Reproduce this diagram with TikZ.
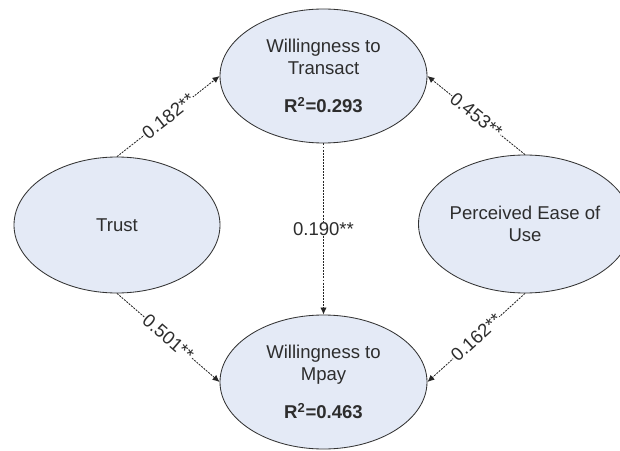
\documentclass[tikz,border=0pt]{standalone}
\usepackage{fontspec}
\setmainfont{Liberation Sans}
\usetikzlibrary{shapes.geometric,arrows.meta}

\definecolor{latentfill}{RGB}{228,234,246}
\definecolor{txtgray}{RGB}{45,45,45}

\begin{document}
\begin{tikzpicture}[align=center,
   latent/.style={shape=ellipse,draw=black!80,line width=0.6pt,fill=latentfill,
      inner sep=0pt,text=txtgray,font=\fontsize{13.2}{15.8}\selectfont},
   coef/.style={-{Latex[length=5pt,width=4.5pt]},draw=black!85,line width=0.6pt,
      dash pattern=on 1.4pt off 0.8pt},
   val/.style={fill=white,inner sep=0.4pt,text=txtgray,font=\fontsize{13.2}{15.8}\selectfont}]

   \useasboundingbox (0,0) rectangle (15.5,11.25);

   \node[latent,minimum width=5.175cm,minimum height=3.35cm] (1) at (8.0875,9.35)
      {Willingness to\\Transact\\[10.9pt]\textbf{R\textsuperscript{2}=0.293}};
   \node[latent,minimum width=5.15cm,minimum height=3.4cm] (2) at (2.925,5.625) {Trust};
   \node[latent,minimum width=4.85cm,minimum height=3.45cm] (3) at (13.125,5.65)
      {Perceived Ease of\\Use};
   \node[latent,minimum width=5.175cm,minimum height=3.35cm] (4) at (8.0875,1.7)
      {Willingness to\\Mpay\\[10.9pt]\textbf{R\textsuperscript{2}=0.463}};

    \path (2.north) edge[coef] node[val,sloped] {0.182**} (1.west);
    \path (3.north) edge[coef] node[val,sloped] {0.453**} (1.east);
    \path (2.south) edge[coef] node[val,sloped] {0.501**} (4.west);
    \path (3.south) edge[coef] node[val,sloped] {0.162**} (4.east);
    \path (1.south) edge[coef] node[val] {0.190**} (4.north);

\end{tikzpicture}
\end{document}
